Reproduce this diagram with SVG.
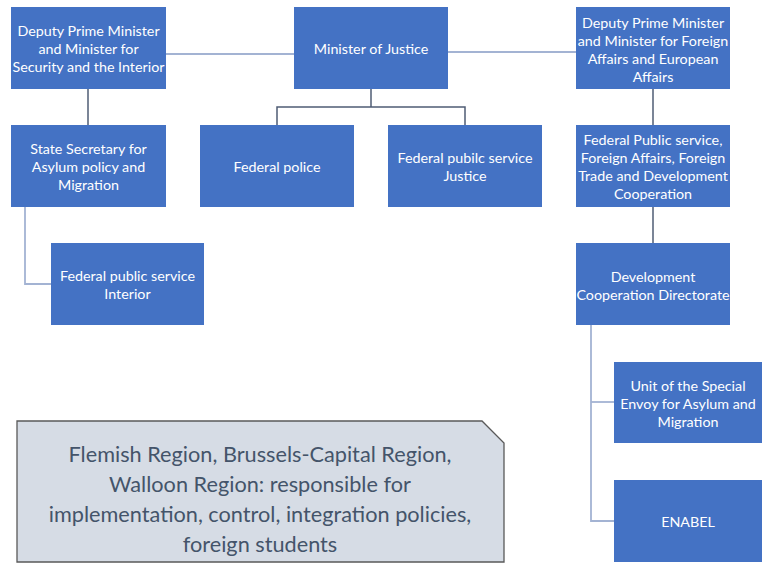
<svg xmlns="http://www.w3.org/2000/svg" width="762" height="563" viewBox="0 0 762 563">
  <style>
    .box { fill: #4472C4; }
    .lbl { font-family: Lato, "Liberation Sans", sans-serif; font-size: 14.3px; fill: #FFFFFF; text-anchor: middle; dominant-baseline: central; }
    .dark { stroke: #4F5C74; stroke-width: 1.5; fill: none; }
    .light { stroke: #A3B3D3; stroke-width: 1.8; fill: none; }
    .note { fill: #D6DCE5; stroke: #595959; stroke-width: 1.3; }
    .notetxt { font-family: Lato, "Liberation Sans", sans-serif; font-size: 21.7px; fill: #44546A; text-anchor: middle; dominant-baseline: central; }
  </style>
  <rect width="762" height="563" fill="#FFFFFF"/>

  <!-- connectors -->
  <g id="connectors">
    <line class="light" x1="166" y1="54" x2="294" y2="54"/>
    <line class="light" x1="448" y1="52" x2="576" y2="52"/>
    <line class="dark" x1="88" y1="89" x2="88" y2="125"/>
    <polyline class="dark" points="371,89 371,107"/>
    <polyline class="dark" points="277,125 277,107 465,107 465,125"/>
    <line class="dark" x1="653" y1="89" x2="653" y2="125"/>
    <line class="dark" x1="653" y1="207" x2="653" y2="243"/>
    <polyline class="light" points="25,207 25,284 51,284"/>
    <polyline class="light" points="591,325 591,521 614,521"/>
    <line class="light" x1="591" y1="402" x2="614" y2="402"/>
  </g>

  <g id="dpm-interior">
    <rect class="box" x="11" y="7" width="155" height="82"/>
    <text class="lbl" x="88.5" y="30">Deputy Prime Minister</text>
    <text class="lbl" x="88.5" y="48">and Minister for</text>
    <text class="lbl" x="88.5" y="66">Security and the Interior</text>
  </g>

  <g id="minister-justice">
    <rect class="box" x="294" y="7" width="154" height="82"/>
    <text class="lbl" x="371" y="48">Minister of Justice</text>
  </g>

  <g id="dpm-foreign">
    <rect class="box" x="576" y="7" width="154" height="82"/>
    <text class="lbl" x="653" y="22">Deputy Prime Minister</text>
    <text class="lbl" x="653" y="40">and Minister for Foreign</text>
    <text class="lbl" x="653" y="58">Affairs and European</text>
    <text class="lbl" x="653" y="76">Affairs</text>
  </g>

  <g id="state-secretary">
    <rect class="box" x="11" y="125" width="155" height="82"/>
    <text class="lbl" x="88.5" y="148">State Secretary for</text>
    <text class="lbl" x="88.5" y="166">Asylum policy and</text>
    <text class="lbl" x="88.5" y="184">Migration</text>
  </g>

  <g id="federal-police">
    <rect class="box" x="200" y="125" width="154" height="82"/>
    <text class="lbl" x="277" y="166">Federal police</text>
  </g>

  <g id="fps-justice">
    <rect class="box" x="388" y="125" width="154" height="82"/>
    <text class="lbl" x="465" y="157">Federal pubilc service</text>
    <text class="lbl" x="465" y="175">Justice</text>
  </g>

  <g id="fps-foreign">
    <rect class="box" x="576" y="125" width="154" height="82"/>
    <text class="lbl" x="653" y="139">Federal Public service,</text>
    <text class="lbl" x="653" y="157">Foreign Affairs, Foreign</text>
    <text class="lbl" x="653" y="175">Trade and Development</text>
    <text class="lbl" x="653" y="193">Cooperation</text>
  </g>

  <g id="fps-interior">
    <rect class="box" x="51" y="243" width="153" height="82"/>
    <text class="lbl" x="127.5" y="275">Federal public service</text>
    <text class="lbl" x="127.5" y="293">Interior</text>
  </g>

  <g id="dev-coop">
    <rect class="box" x="576" y="243" width="154" height="82"/>
    <text class="lbl" x="653" y="276">Development</text>
    <text class="lbl" x="653" y="294">Cooperation Directorate</text>
  </g>

  <g id="special-envoy">
    <rect class="box" x="614" y="362" width="148" height="81"/>
    <text class="lbl" x="688" y="385">Unit of the Special</text>
    <text class="lbl" x="688" y="403">Envoy for Asylum and</text>
    <text class="lbl" x="688" y="421">Migration</text>
  </g>

  <g id="enabel">
    <rect class="box" x="614" y="480" width="148" height="82"/>
    <text class="lbl" x="688" y="521">ENABEL</text>
  </g>

  <g id="regions-note">
    <path class="note" d="M17,421 H482 L504,443 V562 H17 Z"/>
    <text class="notetxt" x="260" y="454">Flemish Region, Brussels-Capital Region,</text>
    <text class="notetxt" x="260" y="484">Walloon Region: responsible for</text>
    <text class="notetxt" x="260" y="514">implementation, control, integration policies,</text>
    <text class="notetxt" x="260" y="544">foreign students</text>
  </g>
</svg>
